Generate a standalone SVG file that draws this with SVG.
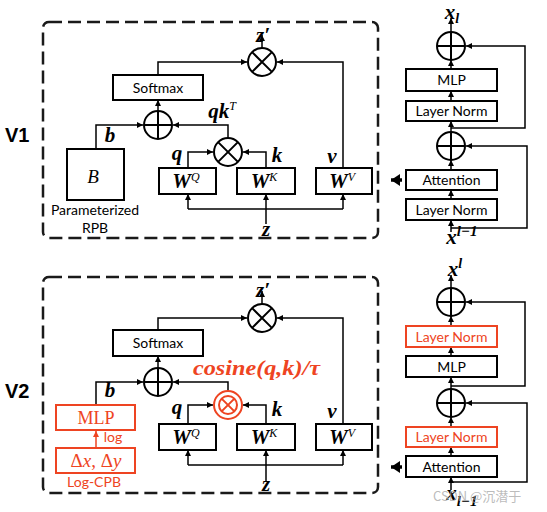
<svg xmlns="http://www.w3.org/2000/svg" width="547" height="512" viewBox="0 0 547 512">
<defs>
<marker id="a" markerUnits="userSpaceOnUse" markerWidth="7" markerHeight="7" refX="6" refY="3" orient="auto"><path d="M0,0 L6,3 L0,6 z" fill="#000"/></marker>
<marker id="ar" markerUnits="userSpaceOnUse" markerWidth="7" markerHeight="7" refX="6" refY="3" orient="auto"><path d="M0,0 L6,3 L0,6 z" fill="#ee4422"/></marker>
<marker id="big" markerUnits="userSpaceOnUse" markerWidth="12" markerHeight="14" refX="9" refY="6" orient="auto"><path d="M0,0 L9,6 L0,12 z" fill="#000"/></marker>
</defs>
<style>
.frame{fill:none;stroke:#1a1a1a;stroke-width:2.5;stroke-dasharray:13,6}
.box{fill:#fff;stroke:#000;stroke-width:2}
.rbox{fill:#fff;stroke:#ee4422;stroke-width:2}
.ln{fill:none;stroke:#000;stroke-width:1.5}
.lnA{fill:none;stroke:#000;stroke-width:1.5;marker-end:url(#a)}
.op{fill:#fff;stroke:#000;stroke-width:2}
.opl{stroke:#000;stroke-width:2}
.rop{fill:#fff;stroke:#ee4422;stroke-width:2}
.ropl{stroke:#ee4422;stroke-width:2}
.t{font-family:Lato,"Liberation Sans",sans-serif;font-size:14px;text-anchor:middle;fill:#000}
.tr{font-family:Lato,"Liberation Sans",sans-serif;font-size:14px;text-anchor:middle;fill:#ee4422}
.m{font-family:"Liberation Serif","DejaVu Serif",serif;font-weight:bold;font-style:italic;font-size:21px;text-anchor:middle;fill:#000}
.sup{font-family:"Liberation Serif","DejaVu Serif",serif;font-style:italic;font-weight:normal;font-size:12px}
.ver{font-family:"Liberation Sans",Arial,sans-serif;font-weight:bold;font-size:20px;fill:#000}
</style>

<g id="frame-v1"><rect class="frame" x="43" y="22" width="335" height="216" rx="6"/></g>
<g id="frame-v2"><rect class="frame" x="43" y="277" width="335" height="216" rx="6"/></g>

<g id="label-v1"><text class="ver" x="5" y="142">V1</text></g>
<g id="label-v2"><text class="ver" x="5" y="398">V2</text></g>

<g id="connectors">
<path class="lnA" d="M262,48 V35"/>
<path class="lnA" d="M158,75 V62 H247"/>
<path class="lnA" d="M343,168 V62 H277"/>
<path class="lnA" d="M158,111 V100"/>
<path class="lnA" d="M96,149 V125 H143"/>
<path class="lnA" d="M228,138 V125 H173"/>
<path class="lnA" d="M188,168 V152 H213"/>
<path class="lnA" d="M266,168 V152 H243"/>
<path class="ln" d="M188,209 H343"/>
<path class="lnA" d="M188,209 V194"/>
<path class="lnA" d="M343,209 V194"/>
<path class="lnA" d="M266,224 V194"/>
<path class="lnA" d="M451,32 V18"/>
<path class="lnA" d="M451,69 V60"/>
<path class="lnA" d="M451,101 V91"/>
<path class="lnA" d="M451,132 V121"/>
<path class="lnA" d="M451,170 V160"/>
<path class="lnA" d="M451,199 V190"/>
<path class="lnA" d="M451,232 V220"/>
<path class="lnA" d="M451,128 H525 V46 H466"/>
<path class="lnA" d="M451,228 H527 V146 H466"/>
<path d="M402,180 H391" stroke="#000" stroke-width="3.5" fill="none" marker-end="url(#big)"/>
<path class="lnA" d="M262,304 V291"/>
<path class="lnA" d="M158,330 V318 H247"/>
<path class="lnA" d="M343,424 V318 H277"/>
<path class="lnA" d="M158,368 V356"/>
<path class="lnA" d="M96,405 V382 H143"/>
<path class="lnA" d="M228,391 V382 H173"/>
<path class="lnA" d="M188,424 V405 H213"/>
<path class="lnA" d="M266,424 V405 H243"/>
<path class="ln" d="M188,465 H343"/>
<path class="lnA" d="M188,465 V450"/>
<path class="lnA" d="M343,465 V450"/>
<path class="lnA" d="M266,481 V450"/>
<path d="M96,448 V431" fill="none" stroke="#ee4422" stroke-width="1.5" marker-end="url(#ar)"/>
<path class="lnA" d="M451,288 V275"/>
<path class="lnA" d="M451,326 V316"/>
<path class="lnA" d="M451,356 V347"/>
<path class="lnA" d="M451,389 V377"/>
<path class="lnA" d="M451,427 V417"/>
<path class="lnA" d="M451,456 V447"/>
<path class="lnA" d="M451,490 V477"/>
<path class="lnA" d="M451,386 H525 V302 H466"/>
<path class="lnA" d="M451,482 H527 V403 H466"/>
<path d="M402,467 H391" stroke="#000" stroke-width="3.5" fill="none" marker-end="url(#big)"/>
</g>

<g id="v1-zprime"><text class="m" x="263" y="42">z′</text></g>
<g id="v1-mul-out"><circle class="op" cx="262" cy="62" r="14"/><path class="opl" d="M252.1,52.1 L271.9,71.9 M271.9,52.1 L252.1,71.9"/></g>
<g id="v1-softmax"><rect class="box" x="113" y="75" width="90" height="25"/><text class="t" x="158" y="92.5">Softmax</text></g>
<g id="v1-add"><circle class="op" cx="158" cy="125" r="14"/><path class="opl" d="M144,125 H172 M158,111 V139"/></g>
<g id="v1-qkT"><text class="m" x="222" y="118">qk<tspan class="sup" font-weight="bold" dy="-8" font-size="14">T</tspan></text></g>
<g id="v1-mul-qk"><circle class="op" cx="228" cy="152" r="14"/><path class="opl" d="M218.1,142.1 L237.9,161.9 M237.9,142.1 L218.1,161.9"/></g>
<g id="v1-B"><rect class="box" x="67" y="149" width="57" height="51"/><text x="93" y="183" font-family="'Liberation Serif',serif" font-style="italic" font-size="19" text-anchor="middle">B</text></g>
<g id="v1-rpb-label"><text class="t" x="95" y="215" font-size="12.5">Parameterized</text><text class="t" x="95" y="233" font-size="12.5">RPB</text></g>
<g id="v1-b"><text class="m" x="110" y="142">b</text></g>
<g id="v1-q"><text class="m" x="177" y="160">q</text></g>
<g id="v1-k"><text class="m" x="277" y="162">k</text></g>
<g id="v1-v"><text class="m" x="332" y="163">v</text></g>
<g id="v1-WQ"><rect class="box" x="159" y="168" width="57" height="26"/><text class="m" x="186" y="188" font-size="19">W<tspan class="sup" dy="-7">Q</tspan></text></g>
<g id="v1-WK"><rect class="box" x="237" y="168" width="58" height="26"/><text class="m" x="264" y="188" font-size="19">W<tspan class="sup" dy="-7">K</tspan></text></g>
<g id="v1-WV"><rect class="box" x="316" y="168" width="56" height="26"/><text class="m" x="342" y="188" font-size="19">W<tspan class="sup" dy="-7">V</tspan></text></g>
<g id="v1-z"><text class="m" x="266" y="236">z</text></g>

<g id="v1-xl"><text class="m" x="452" y="19">x<tspan font-size="14" dy="4">l</tspan></text></g>
<g id="v1-add-top"><circle class="op" cx="451" cy="46" r="14"/><path class="opl" d="M437,46 H465 M451,32 V60"/></g>
<g id="v1-mlp"><rect class="box" x="406" y="69" width="91" height="22"/><text class="t" x="451.5" y="85">MLP</text></g>
<g id="v1-ln2"><rect class="box" x="406" y="101" width="91" height="20"/><text class="t" x="451.5" y="116">Layer Norm</text></g>
<g id="v1-add-bot"><circle class="op" cx="451" cy="146" r="14"/><path class="opl" d="M437,146 H465 M451,132 V160"/></g>
<g id="v1-attn"><rect class="box" x="406" y="170" width="91" height="20"/><text class="t" x="451.5" y="185">Attention</text></g>
<g id="v1-ln1"><rect class="box" x="406" y="199" width="91" height="21"/><text class="t" x="451.5" y="214.5">Layer Norm</text></g>
<g id="v1-xl1"><text class="m" x="462" y="244">x<tspan font-size="15" dy="-8">l−1</tspan></text></g>

<g id="v2-zprime"><text class="m" x="263" y="297">z′</text></g>
<g id="v2-mul-out"><circle class="op" cx="262" cy="318" r="14"/><path class="opl" d="M252.1,308.1 L271.9,327.9 M271.9,308.1 L252.1,327.9"/></g>
<g id="v2-softmax"><rect class="box" x="113" y="330" width="90" height="26"/><text class="t" x="158" y="348">Softmax</text></g>
<g id="v2-add"><circle class="op" cx="158" cy="382" r="14"/><path class="opl" d="M144,382 H172 M158,368 V396"/></g>
<g id="v2-cosine"><text x="193" y="375" textLength="127" lengthAdjust="spacingAndGlyphs" font-family="'Liberation Serif',serif" font-weight="bold" font-style="italic" font-size="21" fill="#ee4422">cosine(q,k)/τ</text></g>
<g id="v2-mul-qk"><circle class="rop" cx="228" cy="405" r="14"/><circle class="rop" cx="228" cy="405" r="9"/><path class="ropl" d="M221.6,398.6 L234.4,411.4 M234.4,398.6 L221.6,411.4"/></g>
<g id="v2-b"><text class="m" x="110" y="397">b</text></g>
<g id="v2-mlp-cpb"><rect class="rbox" x="56" y="405" width="79" height="25"/><text x="96" y="424" font-family="'Liberation Serif',serif" font-size="18" text-anchor="middle" fill="#ee4422">MLP</text></g>
<g id="v2-log"><text class="tr" x="113" y="442" font-size="12.5">log</text></g>
<g id="v2-dxdy"><rect class="rbox" x="56" y="448" width="79" height="25"/><text x="96" y="467" font-family="'Liberation Serif',serif" font-size="19" text-anchor="middle" fill="#ee4422">Δ<tspan font-style="italic">x</tspan>, Δ<tspan font-style="italic">y</tspan></text></g>
<g id="v2-cpb-label"><text class="tr" x="94" y="487" font-size="12.5">Log-CPB</text></g>
<g id="v2-q"><text class="m" x="177" y="414">q</text></g>
<g id="v2-k"><text class="m" x="277" y="416">k</text></g>
<g id="v2-v"><text class="m" x="332" y="418">v</text></g>
<g id="v2-WQ"><rect class="box" x="159" y="424" width="57" height="26"/><text class="m" x="186" y="444" font-size="19">W<tspan class="sup" dy="-7">Q</tspan></text></g>
<g id="v2-WK"><rect class="box" x="237" y="424" width="58" height="26"/><text class="m" x="264" y="444" font-size="19">W<tspan class="sup" dy="-7">K</tspan></text></g>
<g id="v2-WV"><rect class="box" x="316" y="424" width="56" height="26"/><text class="m" x="342" y="444" font-size="19">W<tspan class="sup" dy="-7">V</tspan></text></g>
<g id="v2-z"><text class="m" x="266" y="491">z</text></g>

<g id="v2-xl"><text class="m" x="455" y="276">x<tspan font-size="14" dy="-8">l</tspan></text></g>
<g id="v2-add-top"><circle class="op" cx="451" cy="302" r="14"/><path class="opl" d="M437,302 H465 M451,288 V316"/></g>
<g id="v2-ln2"><rect class="rbox" x="406" y="326" width="91" height="21"/><text class="tr" x="451.5" y="341.5">Layer Norm</text></g>
<g id="v2-mlp"><rect class="box" x="406" y="356" width="91" height="21"/><text class="t" x="451.5" y="371.5">MLP</text></g>
<g id="v2-add-bot"><circle class="op" cx="451" cy="403" r="14"/><path class="opl" d="M437,403 H465 M451,389 V417"/></g>
<g id="v2-ln1"><rect class="rbox" x="406" y="427" width="91" height="20"/><text class="tr" x="451.5" y="442">Layer Norm</text></g>
<g id="v2-attn"><rect class="box" x="406" y="456" width="91" height="21"/><text class="t" x="451.5" y="471.5">Attention</text></g>
<g id="v2-xl1"><text class="m" x="462" y="500">x<tspan font-size="15" dy="6">l−1</tspan></text></g>

<g id="watermark"><text x="433" y="501" font-family="'Noto Sans CJK SC','Noto Sans',sans-serif" font-size="13" fill="#aaaaaa" fill-opacity="0.8">CSDN @沉潜于</text></g>
</svg>
